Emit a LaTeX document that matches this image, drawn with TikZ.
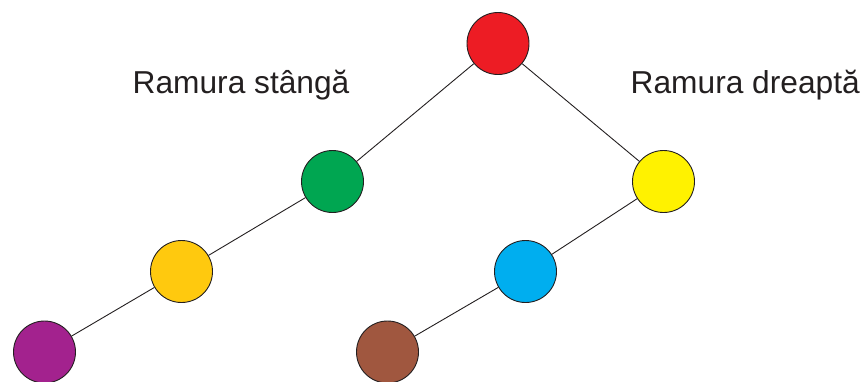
\documentclass[tikz,border=0pt]{standalone}
\usepackage{fontspec}
\setmainfont{Liberation Sans}
\definecolor{cred}{HTML}{ED1C24}
\definecolor{cgreen}{HTML}{00A651}
\definecolor{cyellow}{HTML}{FFF200}
\definecolor{cgold}{HTML}{FFC90E}
\definecolor{cblue}{HTML}{00AEEF}
\definecolor{cpurple}{HTML}{A3228E}
\definecolor{cbrown}{HTML}{A0573F}
\definecolor{cline}{HTML}{231F20}
\begin{document}
\begin{tikzpicture}[x=1pt,y=-1pt,
  ball/.style={circle,draw=cline,line width=0.9pt,minimum size=62pt,inner sep=0pt},
  edge/.style={draw=cline,line width=0.9pt},
  lbl/.style={anchor=base west,inner sep=0pt,font=\fontsize{31.7}{36}\selectfont,text=cline}]
\useasboundingbox (0,0) rectangle (866,381);
\node[ball,fill=cred] (r) at (498,43.5) {};
\node[ball,fill=cgreen] (g) at (332.5,181.5) {};
\node[ball,fill=cyellow] (y) at (663.5,181.5) {};
\node[ball,fill=cgold] (o) at (181.5,271.5) {};
\node[ball,fill=cblue] (b) at (525.5,271.5) {};
\node[ball,fill=cpurple] (p) at (44.5,352) {};
\node[ball,fill=cbrown] (br) at (387.5,352) {};
\path[edge] (r) -- (g);
\path[edge] (g) -- (o);
\path[edge] (o) -- (p);
\path[edge] (r) -- (y);
\path[edge] (y) -- (b);
\path[edge] (b) -- (br);
\node[lbl] (ls) at (132.5,93) {Ramura stângă};
\node[lbl] (rd) at (630.5,93) {Ramura dreaptă};
\end{tikzpicture}
\end{document}
